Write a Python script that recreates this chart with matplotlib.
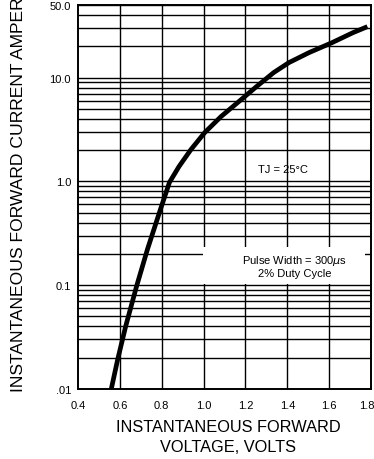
import matplotlib
matplotlib.use("Agg")
import matplotlib.pyplot as plt
from matplotlib.patches import Rectangle
import matplotlib.transforms as mtransforms

# Data
voltage = [0.559, 0.590, 0.628, 0.680, 0.732, 0.794, 0.837, 0.883, 0.940, 1.006,
           1.084, 1.180, 1.253, 1.335, 1.408, 1.504, 1.614, 1.714, 1.783]
current = [0.0100, 0.0194, 0.0403, 0.0978, 0.222, 0.538, 0.978, 1.394, 2.03, 2.96,
           4.22, 6.14, 8.19, 11.17, 13.94, 17.39, 21.70, 27.08, 30.93]

x_ticks = [0.4, 0.6, 0.8, 1.0, 1.2, 1.4, 1.6, 1.8]
x_tick_labels = ["0.4", "0.6", "0.8", "1.0", "1.2", "1.4", "1.6", "1.8"]
y_ticks = [0.01, 0.1, 1.0, 10.0, 50.0]
y_tick_labels = [".01", "0.1", "1.0", "10.0", "50.0"]
x_grid = [0.6, 0.8, 1.0, 1.2, 1.4, 1.6]
y_grid = [m * d for d in [0.01, 0.1, 1.0, 10.0] for m in range(1, 10) if m * d < 50] + [50.0]

plt.rcParams['font.family'] = ['Liberation Sans', 'DejaVu Sans']

W, H = 374, 460
fig = plt.figure(figsize=(W / 100, H / 100), dpi=100)
ax = fig.add_axes([78 / W, 1 - 390 / H, 293 / W, 384 / H])
ax.set_yscale('log')
ax.set_xlim(0.4, 1.8)
ax.set_ylim(0.01, 50)

for yv in y_grid:
    ax.axhline(yv, color='black', lw=1.0, zorder=1)
for xv in x_grid:
    ax.axvline(xv, color='black', lw=1.0, zorder=1)

ax.plot(voltage, current, color='black', lw=3.4, solid_capstyle='butt',
        solid_joinstyle='round', zorder=4)

ax.set_xticks(x_ticks)
ax.set_xticklabels(x_tick_labels, fontsize=8)
ax.set_yticks(y_ticks)
ax.set_yticklabels(y_tick_labels, fontsize=8)
ax.minorticks_off()
ax.tick_params(axis='both', length=0)
ax.tick_params(axis='x', pad=8)
ax.tick_params(axis='y', pad=5)
last = ax.get_xticklabels()[-1]
last.set_transform(last.get_transform() + mtransforms.ScaledTranslation(-4 / 100, 0, fig.dpi_scale_trans))
for s in ax.spines.values():
    s.set_linewidth(1.4)
    s.set_color('black')

ax.add_patch(Rectangle((0.427, 0.273), 0.553, 0.097, transform=ax.transAxes,
                       facecolor='white', edgecolor='none', zorder=2))
ax.text(0.74, 0.322, "Pulse Width = 300$\\mu$s\n2% Duty Cycle", transform=ax.transAxes,
        ha='center', va='center', fontsize=8, zorder=3, linespacing=1.1)
ax.text(0.70, 0.573, "TJ = 25°C", transform=ax.transAxes, ha='center', va='center',
        fontsize=8, zorder=3)

fig.text(19 / W, 1 - 392 / H, "INSTANTANEOUS FORWARD CURRENT AMPERES", rotation=90,
         ha='center', va='bottom', fontsize=12.6)
fig.text(228 / W, 1 - 437.5 / H, "INSTANTANEOUS FORWARD\nVOLTAGE, VOLTS",
         ha='center', va='center', fontsize=11.8, linespacing=1.37)

fig.savefig("out.png", dpi=100, facecolor='white')
